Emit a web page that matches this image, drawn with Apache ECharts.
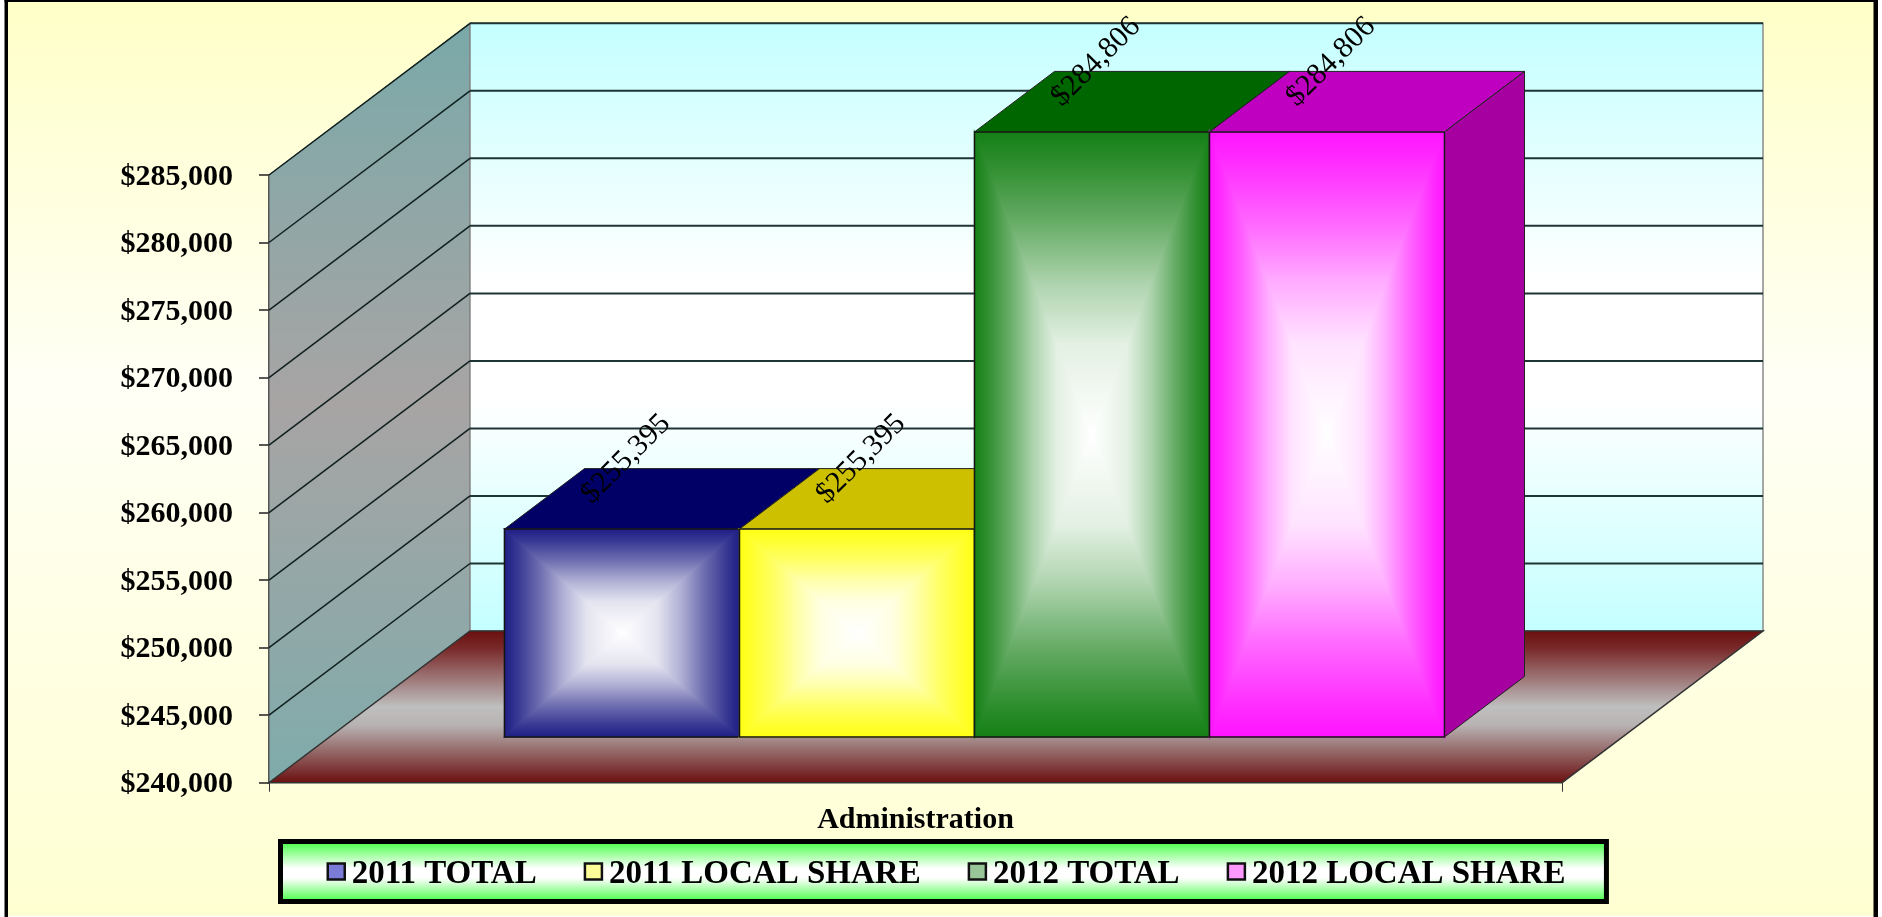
<!DOCTYPE html>
<html><head><meta charset="utf-8">
<style>html,body{margin:0;padding:0;background:#fff}#c{width:1882px;height:917px}</style>
<script src="https://cdn.jsdelivr.net/npm/echarts@6/dist/echarts.min.js"></script>
</head><body><div id="c"></div>
<script>
const categories = ['Administration'];
const seriesNames = ['2011 TOTAL', '2011 LOCAL SHARE', '2012 TOTAL', '2012 LOCAL SHARE'];
const total2011 = [255395];
const local2011 = [255395];
const total2012 = [284806];
const local2012 = [284806];
const yMin = 240000, yMax = 285000, yStep = 5000;
const wallTicks = [245000, 250000, 255000, 260000, 265000, 270000, 275000, 280000, 285000];

const FONT = '"Liberation Serif","Times New Roman",serif';
const WALL = [201, -151.7];      // depth of the floor
const BAR_START = [59, -45.7];   // where the bars' front face sits
const BAR_DEPTH = [80, -60.5];   // depth of a bar
const BAR_W = 235;

const palette = [
  {edge:[30,30,134], top:'#000066', side:'#000066', key:'#7B7BD8'},
  {edge:[255,255,20], top:'#CCC000', side:'#CCC000', key:'#FFFF99'},
  {edge:[21,128,21], top:'#006600', side:'#006600', key:'#99C699'},
  {edge:[255,20,255], top:'#C000C0', side:'#A600A0', key:'#FF99FF'}
];
const RAMP = [[0,0],[0.1,0.1],[0.3,0.35],[0.5,0.65],[0.7,0.88],[1,1]];
const rampStops = e=>RAMP.map(r=>[r[0],'rgb('+e.map(c=>Math.round(c+(255-c)*r[1])).join(',')+')']);
const lin = (x,y,x2,y2,stops)=>({type:'linear',x,y,x2,y2,global:true,
  colorStops:stops.map(s=>({offset:s[0],color:s[1]}))});
const vert = stops=>({type:'linear',x:0,y:0,x2:0,y2:1,
  colorStops:stops.map(s=>({offset:s[0],color:s[1]}))});
const poly = (points,style,z2)=>({type:'polygon',shape:{points},style,z2:z2||0});
const seg = (a,b,stroke,lineWidth)=>({type:'line',shape:{x1:a[0],y1:a[1],x2:b[0],y2:b[1]},
  style:{stroke,lineWidth}});

function renderWalls(params, api){
  const cs = params.coordSys;
  const L = cs.x, R = cs.x+cs.width;
  const T = api.coord([0,yMax])[1], B = api.coord([0,yMin])[1];
  const d = p=>[p[0]+WALL[0],p[1]+WALL[1]];
  const kids = [];
  kids.push(poly([[L,T],d([L,T]),d([L,B]),[L,B]],{
    fill:vert([[0,'#7AA9A9'],[0.5,'#A8A4A4'],[1,'#7FABAB']]),stroke:'#555',lineWidth:1}));
  kids.push(poly([d([L,T]),d([R,T]),d([R,B]),d([L,B])],{
    fill:vert([[0,'#C4FFFF'],[0.42,'#FFFFFF'],[0.62,'#FFFFFF'],[1,'#C4FFFF']]),stroke:'#8a8a8a',lineWidth:1.5}));
  kids.push(poly([[L,B],[R,B],d([R,B]),d([L,B])],{
    fill:vert([[0,'#6A0E0E'],[0.12,'#7A2A2A'],[0.5,'#BFBFBF'],[0.62,'#B8B2B2'],[1,'#6A0E0E']]),stroke:'#333',lineWidth:1.5}));
  wallTicks.forEach(v=>{
    const y = api.coord([0,v])[1];
    kids.push(seg([L,y],d([L,y]),'#10201f',1.5));
    kids.push(seg(d([L,y]),d([R,y]),'#1f3535',2));
  });
  return {type:'group',children:kids};
}

function renderBar(params, api){
  const i = params.seriesIndex-1, c = palette[i];
  const value = api.value(1);
  const p = api.coord([api.value(0),value]);
  const base = api.coord([api.value(0),yMin])[1];
  const x0 = p[0]+BAR_START[0]+(i-2)*BAR_W, x1 = x0+BAR_W;
  const y0 = p[1]+BAR_START[1], y1 = base+BAR_START[1];
  const cx = (x0+x1)/2, cy = (y0+y1)/2;
  const [dx,dy] = BAR_DEPTH;
  const stops = rampStops(c.edge);
  const face = (pts,g)=>poly(pts,{fill:g,stroke:g,lineWidth:1.2});
  const kids = [
    poly([[x0,y0],[x0+dx,y0+dy],[x1+dx,y0+dy],[x1,y0]],{fill:c.top,stroke:'#222',lineWidth:1}),
    poly([[x1,y0],[x1+dx,y0+dy],[x1+dx,y1+dy],[x1,y1]],{fill:c.side,stroke:'#222',lineWidth:1}),
    face([[x0,y0],[x0,y1],[cx,cy]],lin(x0,cy,cx,cy,stops)),
    face([[x1,y0],[x1,y1],[cx,cy]],lin(x1,cy,cx,cy,stops)),
    face([[x0,y0],[x1,y0],[cx,cy]],lin(cx,y0,cx,cy,stops)),
    face([[x0,y1],[x1,y1],[cx,cy]],lin(cx,y1,cx,cy,stops)),
    {type:'rect',shape:{x:x0,y:y0,width:BAR_W,height:y1-y0},style:{fill:'none',stroke:'#151515',lineWidth:1.5}},
    {type:'text',x:cx+4,y:y0-70,rotation:Math.PI/4,z2:50,
      style:{text:'$'+value.toLocaleString('en-US'),font:'30px '+FONT,fill:'#000',align:'center',verticalAlign:'middle'}}
  ];
  return {type:'group',children:kids};
}

const barValues = [total2011, local2011, total2012, local2012];
const boldText = {fontFamily:FONT,fontWeight:'bold',color:'#000'};
const option = {
  animation:false,
  backgroundColor:'#fff',
  graphic:[
    {type:'rect',z:-10,silent:true,shape:{x:7,y:2,width:1867,height:914},
      style:{fill:vert([[0,'#FFFFC8'],[0.42,'#FFFFF6'],[0.6,'#FFFFEA'],[1,'#FFFFD2']])}},
    {type:'rect',z:-9,silent:true,shape:{x:4.5,y:0,width:3.5,height:917},style:{fill:'#000'}},
    {type:'rect',z:-9,silent:true,shape:{x:4.5,y:0,width:1873.5,height:2},style:{fill:'#000'}},
    {type:'rect',z:-9,silent:true,shape:{x:1873.5,y:0,width:4.5,height:917},style:{fill:'#000'}}
  ],
  grid:{left:269,top:175,width:1293,height:607.7,containLabel:false},
  xAxis:{type:'category',data:categories,
    axisLine:{show:false},
    axisTick:{show:true,length:9,alignWithLabel:false,lineStyle:{color:'#333',width:1}},
    axisLabel:{margin:23,fontSize:30,...boldText}},
  yAxis:{type:'value',min:yMin,max:yMax,interval:yStep,
    splitLine:{show:false},
    axisLine:{show:true,lineStyle:{color:'#222',width:1.5}},
    axisTick:{show:true,length:10,lineStyle:{color:'#222',width:1.5}},
    axisLabel:{margin:36,fontSize:30,...boldText,
      formatter:v=>'{a|$'+v.toLocaleString('en-US')+'}',
      rich:{a:{fontSize:30,...boldText,padding:[4,0,0,0]}}}},
  legend:{
    data:seriesNames.map((name,i)=>({name,icon:'rect',
      itemStyle:{color:palette[i].key,borderColor:'#111',borderWidth:2.5}})),
    left:280.5,top:841.5,itemWidth:17,itemHeight:16,itemGap:47,selectedMode:false,
    padding:[16,41,11,46],
    backgroundColor:vert([[0,'#33FF33'],[0.45,'#FFFFFF'],[0.6,'#FFFFFF'],[1,'#33FF33']]),
    borderColor:'#000',borderWidth:5,
    formatter:n=>'{a|'+n+'}',
    textStyle:{fontSize:33,...boldText,
      rich:{a:{fontSize:33,...boldText,padding:[5,0,0,2]}}}
  },
  series:[
    {type:'custom',silent:true,z:1,renderItem:renderWalls,data:[[0,yMin]],encode:{x:0,y:1}},
    ...seriesNames.map((name,i)=>({
      type:'custom',name,z:2,silent:true,renderItem:renderBar,
      itemStyle:{color:palette[i].key},
      data:barValues[i].map((v,k)=>[k,v]),encode:{x:0,y:1}
    }))
  ]
};
const chart = echarts.init(document.getElementById('c'),null,{renderer:'canvas'});
chart.setOption(option);
</script></body></html>
